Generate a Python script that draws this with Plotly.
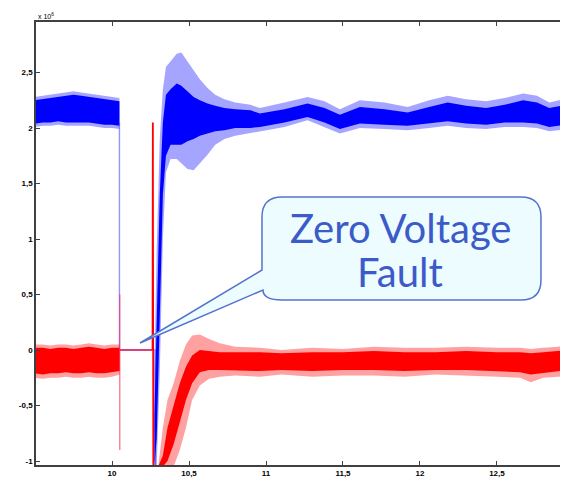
import plotly.graph_objects as go

# ---------------- data (values in units of 10^6) ----------------
# Blue trace, pre-fault envelope
blue_pre_t   = [9.5, 9.55, 9.6, 9.65, 9.7, 9.75, 9.8, 9.85, 9.9, 9.95, 10.0, 10.048]
blue_pre_hi  = [2.28, 2.29, 2.30, 2.31, 2.32, 2.33, 2.32, 2.31, 2.30, 2.29, 2.28, 2.27]
blue_pre_lo  = [2.01, 2.02, 2.02, 2.03, 2.02, 2.02, 2.02, 2.02, 2.01, 2.00, 2.00, 1.99]
blue_pre_chi = [2.25, 2.26, 2.27, 2.28, 2.29, 2.30, 2.29, 2.28, 2.27, 2.26, 2.25, 2.24]
blue_pre_clo = [2.04, 2.05, 2.05, 2.06, 2.05, 2.05, 2.05, 2.05, 2.04, 2.03, 2.03, 2.02]

# Blue trace, fault drop
blue_fault_t = [10.048, 10.048, 10.05, 10.28, 10.282]
blue_fault_y = [2.05, 0.0, 0.0, 0.0, -1.05]

# Blue trace, recovery + steady state envelope
blue_post_t   = [10.275, 10.29, 10.31, 10.33, 10.35, 10.38, 10.42, 10.45, 10.49, 10.53, 10.57,
                 10.62, 10.67, 10.73, 10.80, 10.90, 10.96, 11.12, 11.27, 11.38, 11.48, 11.61,
                 11.77, 11.92, 12.06, 12.18, 12.30, 12.43, 12.55, 12.67, 12.76, 12.84, 12.96]
blue_post_hi  = [-0.2, 0.9, 1.9, 2.35, 2.55, 2.6, 2.67, 2.68, 2.6, 2.52, 2.44,
                 2.36, 2.3, 2.26, 2.23, 2.21, 2.18, 2.23, 2.28, 2.24, 2.17, 2.25,
                 2.23, 2.19, 2.25, 2.29, 2.26, 2.24, 2.27, 2.31, 2.29, 2.23, 2.27]
blue_post_lo  = [-1.05, -1.05, -0.2, 1.0, 1.6, 1.72, 1.72, 1.68, 1.63, 1.62, 1.68,
                 1.76, 1.85, 1.9, 1.93, 1.95, 1.97, 2.01, 2.07, 2.01, 1.95, 2.0,
                 1.99, 1.98, 2.0, 2.02, 2.0, 1.99, 2.01, 2.01, 2.0, 1.97, 1.99]
blue_post_chi = [-0.6, 0.3, 1.4, 2.05, 2.3, 2.35, 2.4, 2.38, 2.33, 2.28, 2.25,
                 2.22, 2.2, 2.18, 2.17, 2.16, 2.13, 2.17, 2.22, 2.18, 2.12, 2.19,
                 2.17, 2.14, 2.19, 2.23, 2.2, 2.18, 2.21, 2.25, 2.23, 2.18, 2.21]
blue_post_clo = [-1.05, -0.8, 0.3, 1.4, 1.75, 1.85, 1.85, 1.85, 1.88, 1.9, 1.93,
                 1.95, 1.97, 1.98, 2.0, 2.0, 2.01, 2.05, 2.1, 2.05, 1.99, 2.04,
                 2.03, 2.02, 2.04, 2.06, 2.04, 2.03, 2.05, 2.05, 2.04, 2.01, 2.03]

# Red trace, pre-fault envelope
red_pre_t   = [9.5, 9.55, 9.6, 9.65, 9.7, 9.75, 9.8, 9.85, 9.9, 9.95, 10.0, 10.05]
red_pre_hi  = [0.05, 0.05, 0.04, 0.05, 0.05, 0.04, 0.05, 0.06, 0.05, 0.04, 0.05, 0.05]
red_pre_lo  = [-0.25, -0.26, -0.25, -0.25, -0.24, -0.25, -0.25, -0.24, -0.25, -0.25, -0.24, -0.22]
red_pre_chi = [0.02, 0.02, 0.01, 0.02, 0.02, 0.01, 0.02, 0.03, 0.02, 0.01, 0.02, 0.02]
red_pre_clo = [-0.21, -0.22, -0.21, -0.21, -0.2, -0.21, -0.21, -0.2, -0.21, -0.21, -0.2, -0.19]

# Red trace, fault segments
red_drop_t  = [10.05, 10.05]
red_drop_y  = [0.5, -0.9]
red_flat_t  = [10.05, 10.263]
red_flat_y  = [0.0, 0.0]
red_spike_t = [10.263, 10.265, 10.268, 10.33]
red_spike_y = [0.0, 2.05, -1.05, -1.05]

# Red trace, recovery + steady state envelope
red_post_t   = [10.30, 10.33, 10.36, 10.40, 10.44, 10.48, 10.52, 10.57, 10.63, 10.70, 10.80,
                10.96, 11.1, 11.3, 11.5, 11.7, 11.9, 12.1, 12.3, 12.5, 12.65, 12.72, 12.8, 12.9, 12.96]
red_post_hi  = [-1.05, -0.7, -0.45, -0.3, -0.1, 0.05, 0.13, 0.14, 0.1, 0.06, 0.03,
                0.02, 0.0, 0.02, 0.01, 0.03, 0.02, 0.02, 0.03, 0.02, 0.02, 0.01, 0.02, 0.03, 0.05]
red_post_lo  = [-1.05, -1.05, -1.05, -1.05, -0.9, -0.7, -0.45, -0.32, -0.26, -0.24, -0.23,
                -0.24, -0.22, -0.24, -0.23, -0.23, -0.24, -0.22, -0.23, -0.24, -0.25, -0.29, -0.25, -0.24, -0.23]
red_post_chi = [-1.05, -0.95, -0.7, -0.5, -0.3, -0.15, -0.05, 0.0, -0.01, -0.02, -0.02,
                -0.02, -0.03, -0.02, -0.02, -0.01, -0.02, -0.02, -0.01, -0.02, -0.02, -0.03, -0.02, -0.01, 0.0]
red_post_clo = [-1.05, -1.05, -1.0, -0.85, -0.65, -0.45, -0.3, -0.2, -0.18, -0.18, -0.18,
                -0.19, -0.18, -0.19, -0.18, -0.18, -0.19, -0.18, -0.18, -0.19, -0.2, -0.22, -0.2, -0.19, -0.18]

x_tickvals = [10, 10.5, 11, 11.5, 12, 12.5]
x_ticktext = ["10", "10,5", "11", "11,5", "12", "12,5"]
y_tickvals = [-1, -0.5, 0, 0.5, 1, 1.5, 2, 2.5]
y_ticktext = ["-1", "-0,5", "0", "0,5", "1", "1,5", "2", "2,5"]

callout_lines = ["Zero Voltage", "Fault"]

# ---------------- figure ----------------
BLUE = "rgb(0,0,255)"
BLUE_L = "rgba(40,40,255,0.42)"
RED = "rgb(255,0,0)"
RED_L = "rgba(255,30,30,0.42)"


def band(t, hi, lo, color):
    return go.Scatter(x=list(t) + list(t)[::-1], y=list(hi) + list(lo)[::-1],
                      fill="toself", fillcolor=color, mode="lines",
                      line=dict(width=0, color=color), hoverinfo="skip", showlegend=False)


def line(t, y, color, width=1.2):
    return go.Scatter(x=t, y=y, mode="lines", line=dict(color=color, width=width),
                      hoverinfo="skip", showlegend=False)


fig = go.Figure()
fig.add_trace(band(blue_pre_t, blue_pre_hi, blue_pre_lo, BLUE_L))
fig.add_trace(band(blue_pre_t, blue_pre_chi, blue_pre_clo, BLUE))
fig.add_trace(line(blue_fault_t, blue_fault_y, "rgba(60,60,255,0.55)", 1.4))
fig.add_trace(band(blue_post_t, blue_post_hi, blue_post_lo, BLUE_L))
fig.add_trace(band(blue_post_t, blue_post_chi, blue_post_clo, BLUE))

fig.add_trace(band(red_pre_t, red_pre_hi, red_pre_lo, RED_L))
fig.add_trace(band(red_pre_t, red_pre_chi, red_pre_clo, RED))
fig.add_trace(line(red_drop_t, red_drop_y, "rgba(255,40,90,0.6)", 1.4))
fig.add_trace(line(red_flat_t, red_flat_y, "rgb(230,30,80)", 1.6))
fig.add_trace(line(red_spike_t, red_spike_y, RED, 1.8))
fig.add_trace(band(red_post_t, red_post_hi, red_post_lo, RED_L))
fig.add_trace(band(red_post_t, red_post_chi, red_post_clo, RED))

# plot-area geometry in page pixels (the page body has an 8px margin)
OFF = 8
L, R, T, B = 36, 567, 22, 465
W, H = 568 - OFF, 480 - OFF


def px(xp, yp):
    return f"{(xp - L) / (R - L):.4f},{(B - yp) / (B - T):.4f}"


bx0, bx1, by0, by1, rr = 262, 541, 197, 300, 20
path = (f"M {px(bx0 + rr, by0)} L {px(bx1 - rr, by0)} Q {px(bx1, by0)} {px(bx1, by0 + rr)} "
        f"L {px(bx1, by1 - rr)} Q {px(bx1, by1)} {px(bx1 - rr, by1)} "
        f"L {px(bx0 + 20, by1)} Q {px(bx0 + 1, by1)} {px(bx0 + 1, by1 - 10)} "
        f"L {px(140, 343)} L {px(bx0, 270)} "
        f"L {px(bx0, by0 + rr)} Q {px(bx0, by0)} {px(bx0 + rr, by0)} Z")
fig.add_shape(type="path", path=path, xref="paper", yref="paper",
              fillcolor="rgb(236,252,255)", line=dict(color="rgb(85,115,205)", width=1.5), layer="above")

text_y = [228, 272]
for txt, ty in zip(callout_lines, text_y):
    fig.add_annotation(text=txt, xref="paper", yref="paper",
                       x=(400 - L) / (R - L), y=(B - ty) / (B - T), showarrow=False,
                       xanchor="center", yanchor="middle",
                       font=dict(family="Lato", size=40, color="rgb(60,90,200)"))

fig.add_annotation(text="x 10<sup>6</sup>", xref="paper", yref="paper", x=0.0, y=1.0,
                   xanchor="left", yanchor="bottom", showarrow=False,
                   font=dict(family="Liberation Sans", size=7, color="black"))

axis_common = dict(showline=True, mirror="ticks", linecolor="#404040", linewidth=1.5,
                   ticks="inside", ticklen=4, tickwidth=1, tickcolor="#404040",
                   showgrid=False, zeroline=False,
                   tickfont=dict(family="Liberation Sans", size=8, color="black", weight="bold"))

fig.update_xaxes(range=[9.506, 12.955], tickvals=x_tickvals, ticktext=x_ticktext, **axis_common)
fig.update_yaxes(range=[-1.036, 2.955], tickvals=y_tickvals, ticktext=y_ticktext, **axis_common)

fig.update_layout(width=W, height=H,
                  margin=dict(l=L - OFF, r=W - (R - OFF), t=T - OFF, b=H - (B - OFF), autoexpand=False),
                  plot_bgcolor="white", paper_bgcolor="white", showlegend=False)

fig.write_html("out.html")
